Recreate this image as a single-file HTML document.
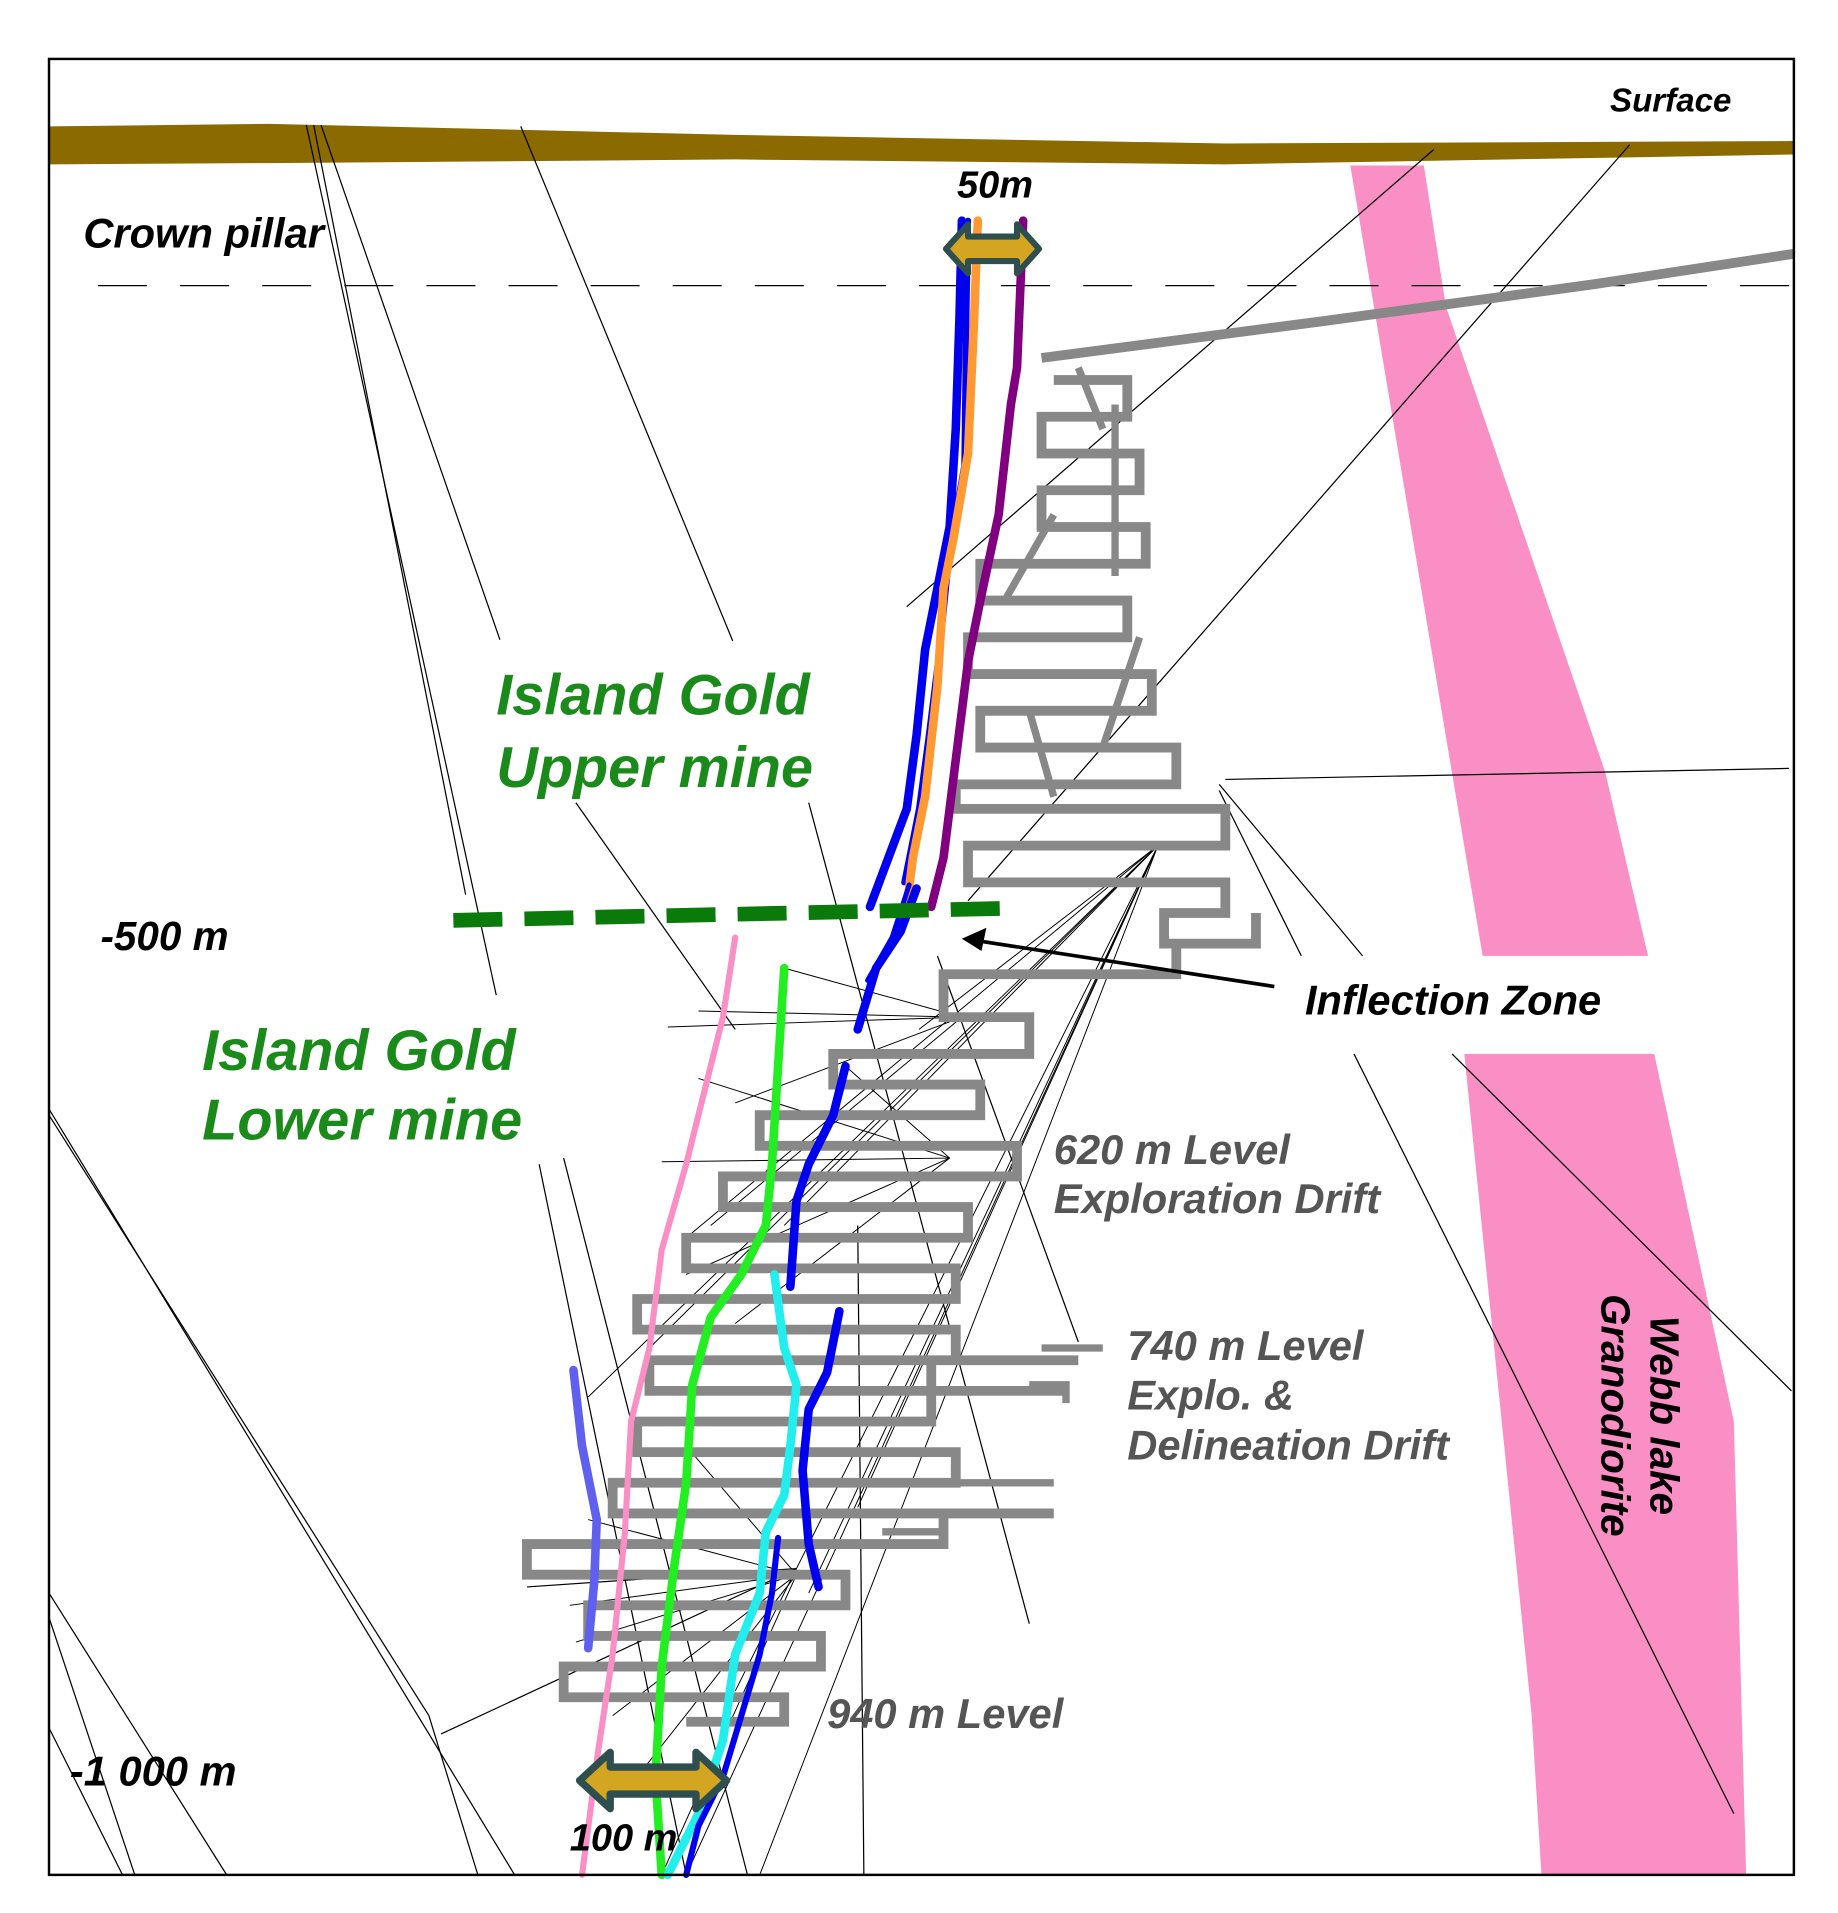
<!DOCTYPE html>
<html><head><meta charset="utf-8"><style>
html,body{margin:0;padding:0;background:#fff}
svg{display:block}
text{font-family:"Liberation Sans",sans-serif;font-weight:bold;font-style:italic}
</style></head><body>
<svg width="1838" height="1913" viewBox="0 0 1500 1561" xmlns="http://www.w3.org/2000/svg">
<rect x="0" y="0" width="1500" height="1561" fill="#fff"/>
<polygon points="1102,135 1162,135 1180,250 1310,630 1345,780 1350,860 1415,1160 1425,1530 1258,1530 1250,1400 1195,860 1210,780" fill="#f98fc4"/>
<rect x="1045" y="780" width="305" height="80" fill="#fff"/>
<polygon points="40,103 220,101 600,110 1000,117 1464,115 1464,126 1000,134 600,130 220,133 40,134" fill="#8b6a00"/>
<line x1="80" y1="233" x2="1464" y2="233" stroke="#000" stroke-width="1" stroke-dasharray="40,27"/>
<g stroke="#000" stroke-width="1" fill="none">
<line x1="250" y1="102" x2="405" y2="812"/>
<line x1="256" y1="102" x2="380" y2="730"/>
<line x1="262" y1="102" x2="408" y2="522"/>
<line x1="425" y1="103" x2="598" y2="523"/>
<line x1="1170" y1="122" x2="740" y2="495"/>
<line x1="1330" y1="118" x2="790" y2="735"/>
<line x1="1000" y1="636" x2="1460" y2="627"/>
<line x1="995" y1="640" x2="1112" y2="780"/>
<line x1="995" y1="645" x2="1062" y2="780"/>
<line x1="1105" y1="860" x2="1415" y2="1480"/>
<line x1="1185" y1="860" x2="1462" y2="1135"/>
<line x1="40" y1="905" x2="420" y2="1530"/>
<line x1="40" y1="910" x2="350" y2="1400"/>
<line x1="40" y1="1300" x2="185" y2="1530"/>
<line x1="40" y1="1320" x2="110" y2="1530"/>
<line x1="40" y1="1410" x2="100" y2="1530"/>
<line x1="350" y1="1400" x2="390" y2="1530"/>
<line x1="660" y1="655" x2="840" y2="1325"/>
<line x1="470" y1="655" x2="600" y2="840"/>
<line x1="440" y1="950" x2="560" y2="1530"/>
<line x1="460" y1="945" x2="610" y2="1530"/>
<line x1="765" y1="780" x2="880" y2="1095"/>
<line x1="700" y1="1000" x2="705" y2="1530"/>
<line x1="360" y1="1415" x2="650" y2="1280"/>
<line x1="430" y1="1295" x2="650" y2="1280"/>
<g stroke-width="0.8">
<line x1="945" y1="690" x2="600" y2="1380"/>
<line x1="945" y1="690" x2="560" y2="1530"/>
<line x1="945" y1="690" x2="620" y2="1530"/>
<line x1="945" y1="690" x2="700" y2="1230"/>
<line x1="945" y1="690" x2="530" y2="1100"/>
<line x1="945" y1="690" x2="480" y2="1140"/>
<line x1="945" y1="690" x2="560" y2="1010"/>
<line x1="945" y1="690" x2="640" y2="1000"/>
<line x1="945" y1="690" x2="750" y2="840"/>
<line x1="945" y1="690" x2="660" y2="1300"/>
<line x1="785" y1="830" x2="545" y2="838"/>
<line x1="785" y1="830" x2="570" y2="825"/>
<line x1="785" y1="830" x2="600" y2="900"/>
<line x1="785" y1="830" x2="580" y2="1000"/>
<line x1="785" y1="830" x2="640" y2="790"/>
<line x1="775" y1="945" x2="540" y2="948"/>
<line x1="775" y1="945" x2="570" y2="880"/>
<line x1="775" y1="945" x2="560" y2="1040"/>
<line x1="775" y1="945" x2="600" y2="1080"/>
<line x1="775" y1="945" x2="690" y2="870"/>
<line x1="650" y1="1285" x2="460" y2="1285"/>
<line x1="650" y1="1285" x2="465" y2="1310"/>
<line x1="650" y1="1285" x2="470" y2="1340"/>
<line x1="650" y1="1285" x2="500" y2="1400"/>
<line x1="650" y1="1285" x2="520" y2="1450"/>
<line x1="650" y1="1285" x2="480" y2="1240"/>
<line x1="650" y1="1285" x2="560" y2="1180"/>
<line x1="650" y1="1285" x2="540" y2="1530"/>
</g>
</g>
<polyline fill="none" stroke="#888" stroke-width="8" points="850,292 1080,262 1300,232 1464,207"/>
<path fill="none" stroke="#888" stroke-width="8" d="M860,310 H920 V340 H850 V370 H930 V400 H850 V430 H935 V460 H800 V490 H920 V520 H790 V550 H940 V580 H800 V610 H960 V640 H780 V660 H1000 V690 H790 V720 H1000 V745 H950 V770 H1025 V745 M960,770 V795 H770 V830 H840 V860 H680 V885 H800 V910 H620 V935 H830 V960 H590 V985 H790 V1010 H560 V1035 H780 V1060 H520 V1085 H780 V1110 H530 V1135 H870 M880,1110 H760 V1160 H520 V1185 H780 V1210 H500 V1235 H860 M770,1235 V1260 H430 V1285 H690 V1310 H480 V1335 H670 V1360 H460 V1385 H640 V1405 H560"/>
<path fill="none" stroke="#888" stroke-width="6" d="M910,330 V470 M880,300 L900,350 M860,420 L820,490 M840,580 L860,650 M930,520 L900,610 M850,1100 H900 M840,1130 H870 V1145 M760,1210 H860 M720,1250 H770"/>
<g fill="none" stroke-width="7" stroke-linejoin="round" stroke-linecap="round">
<polyline stroke="#0000ee" points="785,180 783,260 780,350 775,430 765,480 755,530 748,600 740,660 725,700 710,740"/>
<polyline stroke="#0000ee" stroke-width="5" points="790,180 788,300 787,380 776,440 768,520 758,600 750,660 738,720"/>
<polyline stroke="#ff9933" points="798,180 795,260 790,370 778,440 770,480 765,560 755,650 745,700 740,740"/>
<polyline stroke="#800080" points="835,180 830,300 825,330 815,420 800,490 790,540 780,620 770,700 760,740"/>
<polyline stroke="#0000ee" points="748,725 735,760 715,790 700,840"/>
<polyline stroke="#0000ee" stroke-width="4" points="742,722 728,765 708,800"/>
<polyline stroke="#f98fc4" stroke-width="5" points="600,765 590,830 575,890 560,950 540,1020 530,1100 515,1160 510,1250 500,1350 488,1430 475,1530"/>
<polyline stroke="#22ee22" points="640,790 635,870 630,950 625,1000 605,1040 580,1075 565,1130 560,1210 550,1280 540,1360 535,1450 540,1530"/>
<polyline stroke="#0000ee" points="690,870 680,910 660,950 650,980 645,1050"/>
<polyline stroke="#0000ee" points="685,1070 675,1120 660,1150 655,1200 660,1260 668,1295"/>
<polyline stroke="#22eeee" points="632,1040 640,1100 650,1130 645,1180 640,1220 625,1250 620,1300 600,1350 590,1420 570,1480 545,1530"/>
<polyline stroke="#0000ee" stroke-width="5" points="635,1255 630,1300 620,1350 605,1400 590,1450 570,1490 560,1530"/>
<polyline stroke="#6060ee" points="468,1118 475,1180 487,1240 485,1290 480,1345"/>
</g>
<line x1="370" y1="751" x2="830" y2="741" stroke="#0a7a0a" stroke-width="12" stroke-dasharray="40,18"/>
<line x1="1040" y1="805" x2="800" y2="768" stroke="#000" stroke-width="3"/>
<polygon points="785,766 805,757 801,776" fill="#000"/>
<polygon points="772,203 790,183 790,193 830,193 830,183 848,203 830,223 830,213 790,213 790,223" fill="#d4a520" stroke="#2f4f4f" stroke-width="5" stroke-linejoin="round"/>
<polygon points="473,1453 498,1430 498,1442 568,1442 568,1430 593,1453 568,1476 568,1464 498,1464 498,1476" fill="#d4a520" stroke="#2f4f4f" stroke-width="6" stroke-linejoin="round"/>
<rect x="40" y="48" width="1424" height="1482" fill="none" stroke="#000" stroke-width="2"/>
<text x="1413" y="91" font-size="27" text-anchor="end" fill="#000">Surface</text>
<text x="68" y="202" font-size="34" fill="#000">Crown pillar</text>
<text x="812" y="161" font-size="31" text-anchor="middle" fill="#000" font-style="normal">50m</text>
<text x="405" y="583" font-size="47" fill="#1a8a1a">Island Gold</text>
<text x="405" y="642" font-size="47" fill="#1a8a1a">Upper mine</text>
<text x="165" y="873" font-size="47" fill="#1a8a1a">Island Gold</text>
<text x="165" y="930" font-size="47" fill="#1a8a1a">Lower mine</text>
<text x="82" y="775" font-size="33" fill="#000">-500 m</text>
<text x="57" y="1457" font-size="34" fill="#000">-1 000 m</text>
<text x="1065" y="828" font-size="34" fill="#000">Inflection Zone</text>
<text x="860" y="950" font-size="34" fill="#555">620 m Level</text>
<text x="860" y="990" font-size="34" fill="#555">Exploration Drift</text>
<text x="920" y="1110" font-size="34" fill="#555">740 m Level</text>
<text x="920" y="1150" font-size="34" fill="#555">Explo. &amp;</text>
<text x="920" y="1191" font-size="34" fill="#555">Delineation Drift</text>
<text x="675" y="1410" font-size="34" fill="#555">940 m Level</text>
<text x="465" y="1510" font-size="31" fill="#000" font-style="normal">100 m</text>
<g transform="translate(1335,1155) rotate(90)">
<text x="0" y="-12" font-size="33" text-anchor="middle" fill="#000" font-style="normal">Webb lake</text>
<text x="0" y="28" font-size="33" text-anchor="middle" fill="#000" font-style="normal">Granodiorite</text>
</g>
</svg>
</body></html>
